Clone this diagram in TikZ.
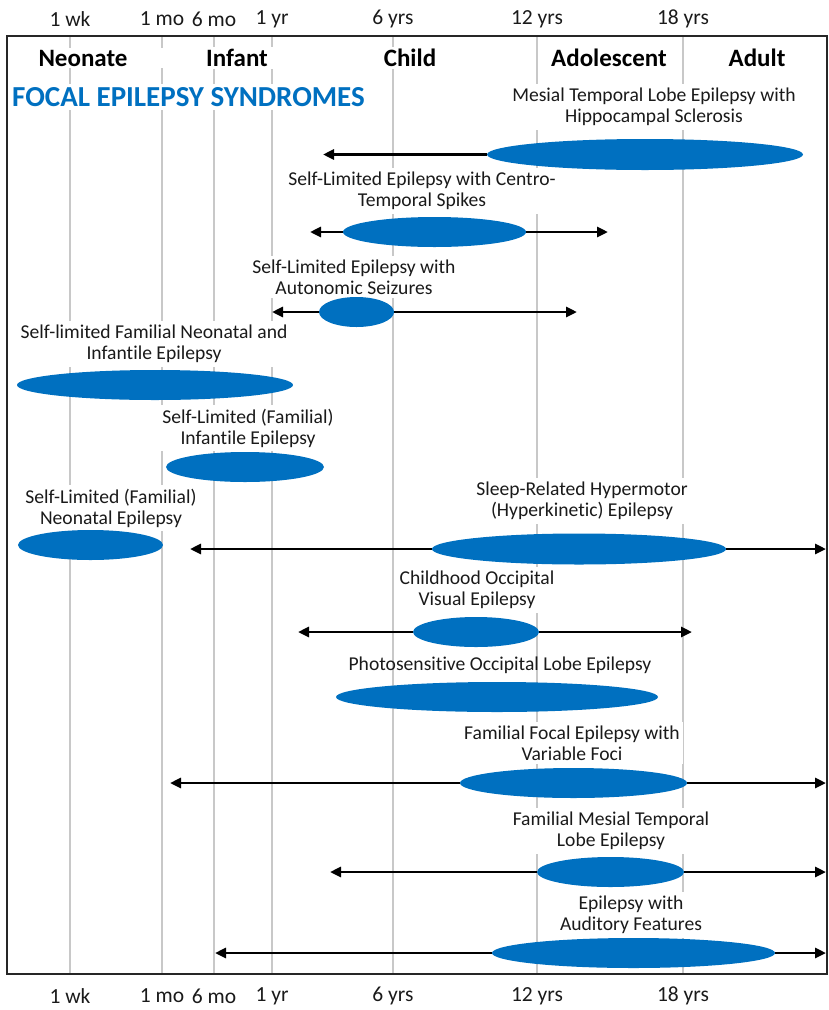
\documentclass[tikz,border=0pt]{standalone}
\usepackage{fontspec}
\setmainfont{Carlito}[Ligatures=NoCommon]
\usetikzlibrary{shapes.geometric,arrows.meta}
\definecolor{epblue}{HTML}{0070C0}
\definecolor{gridgray}{HTML}{C8C8C8}
\definecolor{txt}{HTML}{1A1A1A}
\definecolor{framec}{HTML}{262626}
\begin{document}
\begin{tikzpicture}[x=1pt,y=-1pt,
  gridline/.style={draw=gridgray,line width=1.3pt},
  lbl/.style={fill=white,align=center,font=\fontsize{19.6}{21}\selectfont,text=txt,inner xsep=3pt,inner ysep=4pt},
  hdr/.style={fill=white,font=\fontsize{25}{27}\selectfont\bfseries,text=black,inner sep=2pt},
  axislbl/.style={font=\fontsize{21.5}{23}\selectfont,text=txt,inner sep=1pt},
  blob/.style={ellipse,fill=epblue,inner sep=0pt},
  arr/.style={line width=2.8pt,draw=black,-{Triangle[length=11pt,width=10pt]}},
]
\useasboundingbox (0,0) rectangle (828,1010);

% grid lines
\foreach \x in {70,162,214,272,393,537,683}
  \draw[gridline] (\x,36) -- (\x,974);

% axis labels
\foreach \x/\t/\n in {70/1 wk/a,162/1 mo/b,214/6 mo/c,272/1 yr/d,393/6 yrs/e,537/12 yrs/f,683/18 yrs/g}{
  \node[axislbl] (top\n) at (\x,19) {\t};
  \node[axislbl] (bot\n) at (\x,996) {\t};
}

% headers
\node[hdr,minimum width=190pt] (hneo) at (83,58) {Neonate};
\node[hdr,minimum width=84pt] (hinf) at (237,58) {Infant};
\node[hdr] (hchi) at (410,58) {Child};
\node[hdr] (hado) at (609,58) {Adolescent};
\node[hdr] (hadu) at (757,58) {Adult};
\node[anchor=west,fill=white,text=epblue,font=\fontsize{29}{31}\selectfont\bfseries,inner sep=3pt] (title) at (9,97) {FOCAL EPILEPSY SYNDROMES};

% labels
\node[lbl] (l1) at (654,107) {Mesial Temporal Lobe Epilepsy with\\Hippocampal Sclerosis};
\node[lbl] (l2) at (422,191) {Self-Limited Epilepsy with Centro-\\Temporal Spikes};
\node[lbl] (l3) at (354,277) {Self-Limited Epilepsy with\\Autonomic Seizures};
\node[lbl] (l4) at (154,344) {Self-limited Familial Neonatal and\\Infantile Epilepsy};
\node[lbl] (l5) at (248,428) {Self-Limited (Familial)\\Infantile Epilepsy};
\node[lbl] (l6) at (111,508) {Self-Limited (Familial)\\Neonatal Epilepsy};
\node[lbl] (l7) at (582,501) {Sleep-Related Hypermotor\\(Hyperkinetic) Epilepsy};
\node[lbl] (l8) at (477,590) {Childhood Occipital\\Visual Epilepsy};
\node[lbl,fill=none] (l9) at (500,665) {Photosensitive Occipital Lobe Epilepsy};
\node[lbl] (l10) at (572,743) {Familial Focal Epilepsy with\\Variable Foci};
\node[lbl] (l11) at (611,831) {Familial Mesial Temporal\\Lobe Epilepsy};
\node[lbl] (l12) at (631,915) {Epilepsy with\\Auditory Features};

% ellipses
\node[blob,minimum width=316pt,minimum height=31pt] (e1) at (645,154.5) {};
\node[blob,minimum width=183pt,minimum height=30pt] (e2) at (434.5,232) {};
\node[blob,minimum width=75pt,minimum height=30pt] (e3) at (356.5,312) {};
\node[blob,minimum width=276pt,minimum height=30pt] (e4) at (155,385) {};
\node[blob,minimum width=158pt,minimum height=30pt] (e5) at (245,467) {};
\node[blob,minimum width=145pt,minimum height=30pt] (e6) at (90.5,545) {};
\node[blob,minimum width=294pt,minimum height=31pt] (e7) at (579,549) {};
\node[blob,minimum width=126pt,minimum height=30pt] (e8) at (476,632) {};
\node[blob,minimum width=322pt,minimum height=30pt] (e9) at (497,697) {};
\node[blob,minimum width=227pt,minimum height=30pt] (e10) at (573.5,783) {};
\node[blob,minimum width=147pt,minimum height=30pt] (e11) at (610.5,872) {};
\node[blob,minimum width=283pt,minimum height=30pt] (e12) at (633.5,953) {};

% arrow ends
\coordinate (a1l) at (323,154.5);
\coordinate (a2l) at (310,232);   \coordinate (a2r) at (608,232);
\coordinate (a3l) at (272,312);   \coordinate (a3r) at (577,312);
\coordinate (a7l) at (190,549);   \coordinate (a7r) at (826,549);
\coordinate (a8l) at (298,632);   \coordinate (a8r) at (692,632);
\coordinate (a10l) at (170,783);  \coordinate (a10r) at (826,783);
\coordinate (a11l) at (330,872);  \coordinate (a11r) at (826,872);
\coordinate (a12l) at (215,953);  \coordinate (a12r) at (826,953);

\draw[arr] (e1.west) -- (a1l);
\draw[arr] (e2.west) -- (a2l);  \draw[arr] (e2.east) -- (a2r);
\draw[arr] (e3.west) -- (a3l);  \draw[arr] (e3.east) -- (a3r);
\draw[arr] (e7.west) -- (a7l);  \draw[arr] (e7.east) -- (a7r);
\draw[arr] (e8.west) -- (a8l);  \draw[arr] (e8.east) -- (a8r);
\draw[arr] (e10.west) -- (a10l); \draw[arr] (e10.east) -- (a10r);
\draw[arr] (e11.west) -- (a11l); \draw[arr] (e11.east) -- (a11r);
\draw[arr] (e12.west) -- (a12l); \draw[arr] (e12.east) -- (a12r);

% frame
\draw[draw=framec,line width=2.2pt] (7,36) rectangle (827,974);
\end{tikzpicture}
\end{document}
